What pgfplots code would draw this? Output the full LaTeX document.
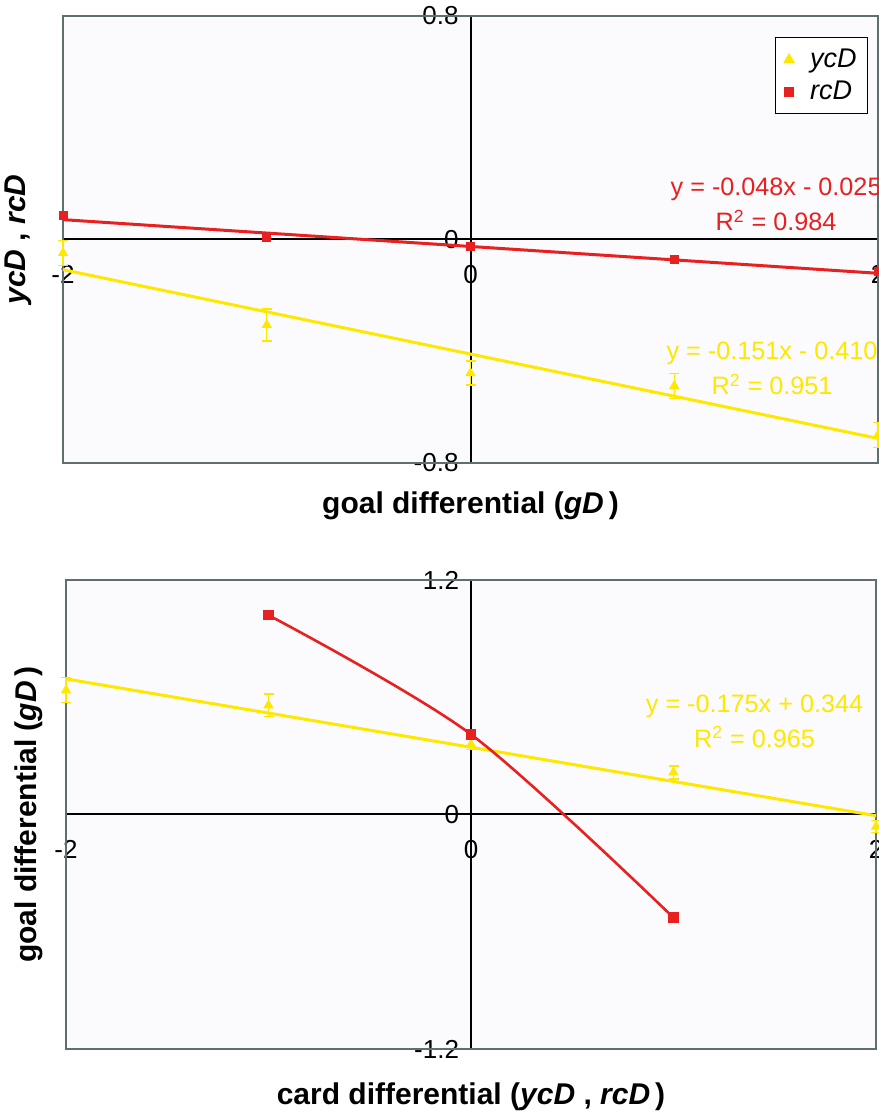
\documentclass[border=0pt]{standalone}
\usepackage{pgfplots}
\pgfplotsset{compat=1.18}
\usepackage{pgfplotstable}
\usepackage{fontspec}
\setmainfont{Liberation Sans}
\definecolor{cy}{RGB}{255,232,0}
\definecolor{cr}{RGB}{232,32,32}
\definecolor{bgc}{RGB}{251,251,253}
\definecolor{frc}{RGB}{95,110,110}

\pgfplotstableread{
x y e
-2 -0.048 0.045
-1 -0.306 0.057
0 -0.478 0.043
1 -0.524 0.045
2 -0.700 0.045
}\topycd
\pgfplotstableread{
x y
-2 0.088
-1 0.006
0 -0.023
1 -0.073
2 -0.116
}\toprcd
\pgfplotstableread{
x y e
-2 0.636 0.064
-1 0.559 0.058
0 0.359 0.025
1 0.215 0.033
2 -0.062 0.030
}\botycd
\pgfplotstableread{
x y
-1 1.020
0 0.410
1 -0.528
}\botrcd

\pgfplotsset{
 myax/.style={
  scale only axis, clip=false, enlargelimits=false,
  axis lines=middle, axis line style={-, black, line width=1bp},
  hide obscured x ticks=false, hide obscured y ticks=false,
  xmin=-2, xmax=2, xtick={-2,0,2}, xticklabels={-2,0,2},
  tick style={black, line width=0.6bp}, major tick length=3bp,
  ticklabel style={font=\fontsize{13bp}{15bp}\selectfont},
  xticklabel style={yshift=-8bp},
  yticklabel style={xshift=-1bp},
  axis background/.style={fill=bgc},
  every axis x label/.style={at={(axis description cs:0.5,0)},anchor=north,
     font=\fontsize{15bp}{18bp}\selectfont\bfseries},
  every axis y label/.style={at={(axis description cs:0,0.5)},rotate=90,anchor=south,
     font=\fontsize{15bp}{18bp}\selectfont\bfseries},
 }
}

\begin{document}
\begin{tikzpicture}
\useasboundingbox (0,0) rectangle (439.5bp,558bp);
% ---------- top panel ----------
\begin{axis}[myax,
  at={(31.5bp,326.5bp)}, anchor=south west,
  width=407.5bp, height=223.5bp,
  ymin=-0.8, ymax=0.8, ytick={-0.8,0,0.8}, yticklabels={-0.8,0,0.8},
  xlabel={goal differential (\textit{gD}\,)},
  ylabel={\textit{ycD} , \textit{rcD}},
  xlabel style={yshift=-11bp},
  ylabel style={yshift=12bp},
  legend style={at={(0.988,0.953)}, anchor=north east, draw=black, line width=0.7bp,
     fill=white, font=\fontsize{13.5bp}{15bp}\selectfont\itshape, inner sep=3.5bp,
     row sep=1.5bp, cells={anchor=west}},
  legend image code/.code={\draw[#1] plot coordinates {(0.12cm,0cm)};
     \path[draw=none,fill=none] (0cm,-0.01cm) rectangle (0.42cm,0.01cm);},
]
\draw[frc, line width=0.8bp] (rel axis cs:0,0) rectangle (rel axis cs:1,1);
\addplot[only marks, mark=triangle*, mark size=2.6bp, color=cy, mark options={fill=cy, draw=cy},
  error bars/.cd, y dir=both, y explicit,
  error bar style={cy, line width=0.6bp},
  error mark options={cy, rotate=90, mark size=2.5bp, line width=0.6bp}]
  table[x=x, y=y, y error=e] {\topycd};
\addlegendentry{ycD}
\addplot[only marks, mark=square*, mark size=2bp, color=cr, mark options={fill=cr, draw=cr}]
  table[x=x, y=y] {\toprcd};
\addlegendentry{rcD}
\addplot[forget plot, cy, line width=1.5bp] coordinates {(-2,-0.108) (2,-0.712)};
\addplot[forget plot, cr, line width=1.5bp] coordinates {(-2,0.071) (2,-0.121)};
\node[align=center, text=cr, font=\fontsize{12.6bp}{17.5bp}\selectfont] at (axis cs:1.5,0.125)
  {y = -0.048x - 0.025\\R\textsuperscript{2} = 0.984};
\node[align=center, text=cy, font=\fontsize{12.6bp}{17.5bp}\selectfont] at (axis cs:1.48,-0.462)
  {y = -0.151x - 0.410\\R\textsuperscript{2} = 0.951};
\end{axis}
% ---------- bottom panel ----------
\begin{axis}[myax,
  at={(33bp,33.5bp)}, anchor=south west,
  width=405bp, height=234.5bp,
  ymin=-1.2, ymax=1.2, ytick={-1.2,0,1.2}, yticklabels={-1.2,0,1.2},
  xlabel={card differential (\textit{ycD} , \textit{rcD}\,)},
  ylabel={goal differential (\textit{gD}\,)},
  xlabel style={yshift=-13.5bp},
  ylabel style={yshift=8bp},
]
\draw[frc, line width=0.8bp] (rel axis cs:0,0) rectangle (rel axis cs:1,1);
\addplot[cy, line width=1.5bp] coordinates {(-2,0.694) (2,-0.006)};
\addplot[only marks, mark=triangle*, mark size=2.6bp, color=cy, mark options={fill=cy, draw=cy},
  error bars/.cd, y dir=both, y explicit,
  error bar style={cy, line width=0.6bp},
  error mark options={cy, rotate=90, mark size=2.5bp, line width=0.6bp}]
  table[x=x, y=y, y error=e] {\botycd};
\addplot[cr, line width=1.3bp, smooth, mark=square*, mark size=2bp, mark options={fill=cr, draw=cr}]
  table[x=x, y=y] {\botrcd};
\node[align=center, text=cy, font=\fontsize{12.6bp}{17.5bp}\selectfont] at (axis cs:1.40,0.479)
  {y = -0.175x + 0.344\\R\textsuperscript{2} = 0.965};
\end{axis}
\end{tikzpicture}
\end{document}
